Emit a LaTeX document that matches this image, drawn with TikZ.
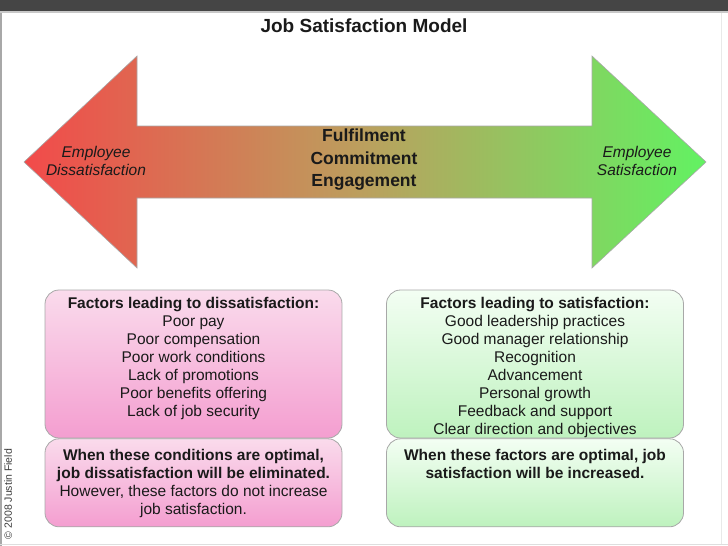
\documentclass[tikz,border=0pt]{standalone}
\usepackage{fontspec}
\setmainfont{Liberation Sans}
\usepackage{xcolor}
\usepackage{tikz}
\usetikzlibrary{positioning}
\definecolor{bandgray}{HTML}{454545}
\definecolor{rulegray}{HTML}{C8C8C8}
\definecolor{edgegray}{HTML}{A8A8A8}
\definecolor{arrowred}{HTML}{F24A4A}
\definecolor{arrowmid}{HTML}{BBA05E}
\definecolor{arrowgreen}{HTML}{62F262}
\definecolor{pinktop}{HTML}{FADBEC}
\definecolor{pinkbot}{HTML}{F49ED0}
\definecolor{greentop}{HTML}{F3FEF3}
\definecolor{greenbot}{HTML}{BEF2BE}
\definecolor{inkdark}{HTML}{1A1A1A}
\tikzset{
  factorbox/.style={
    rectangle, rounded corners=14pt, draw=edgegray, line width=0.8pt,
    minimum width=297pt, inner sep=0pt
  },
  pinkbox/.style={factorbox, top color=pinktop, bottom color=pinkbot},
  greenbox/.style={factorbox, top color=greentop, bottom color=greenbot},
  listtext/.style={
    align=center, inner sep=0pt, text=inkdark,
    font=\fontsize{15.5}{18}\selectfont
  },
  endlabel/.style={
    align=center, inner sep=0pt, text=inkdark,
    font=\fontsize{15.5}{18}\selectfont\itshape
  },
}

\begin{document}
\begin{tikzpicture}[x=1pt, y=-1pt]
  \useasboundingbox (0,0) rectangle (728,546);
  % frame of the slide
  \fill[bandgray] (0,0) rectangle (728,11);
  \fill[rulegray] (0,11) rectangle (728,13);
  \fill[edgegray] (0,13) rectangle (2,546);
  \draw[rulegray!60] (0,544) -- (728,544);
  \draw[rulegray!40] (721,13) -- (721,544);

  \node[font=\fontsize{19}{22}\selectfont\bfseries, text=inkdark] (title) at (364,26) {Job Satisfaction Model};

  % double arrow
  \shade[left color=arrowred, right color=arrowgreen, middle color=arrowmid, draw=edgegray, line width=0.6pt]
    (24,162) -- (137,56) -- (137,126) -- (592,126) -- (592,56) -- (706,162)
    -- (592,268) -- (592,198) -- (137,198) -- (137,268) -- cycle;

  \node[endlabel] (dis) at (96,161) {Employee\\Dissatisfaction};
  \node[endlabel] (sat) at (637,161) {Employee\\Satisfaction};
  \node[align=center, inner sep=0pt, text=inkdark, font=\fontsize{17.5}{22.5}\selectfont\bfseries] (mid) at (364,160) {Fulfilment\\Commitment\\Engagement};

  % factor boxes
  \node[pinkbox, minimum height=148pt] (dbox) at (193.5,364) {};
  \node[pinkbox, minimum height=88pt, below=0pt of dbox] (dnote) {};
  \node[greenbox, minimum height=148pt] (sbox) at (535,364) {};
  \node[greenbox, minimum height=88pt, below=0pt of sbox] (snote) {};

  \node[listtext, below=7pt of dbox.north] (dlist) {\textbf{Factors leading to dissatisfaction:}\\Poor pay\\Poor compensation\\Poor work conditions\\Lack of promotions\\Poor benefits offering\\Lack of job security};
  \node[listtext, below=7pt of sbox.north] (slist) {\textbf{Factors leading to satisfaction:}\\Good leadership practices\\Good manager relationship\\Recognition\\Advancement\\Personal growth\\Feedback and support\\Clear direction and objectives};
  \node[listtext, below=11pt of dnote.north] (dtext) {\textbf{When these conditions are optimal,}\\\textbf{job dissatisfaction will be eliminated.}\\However, these factors do not increase\\job satisfaction.};
  \node[listtext, below=11pt of snote.north] (stext) {\textbf{When these factors are optimal, job}\\\textbf{satisfaction will be increased.}};

  \node[rotate=90, inner sep=0pt, text=inkdark!85, font=\fontsize{10.5}{12}\selectfont] (copy) at (8,494) {\textcopyright{} 2008 Justin Field};
\end{tikzpicture}
\end{document}
